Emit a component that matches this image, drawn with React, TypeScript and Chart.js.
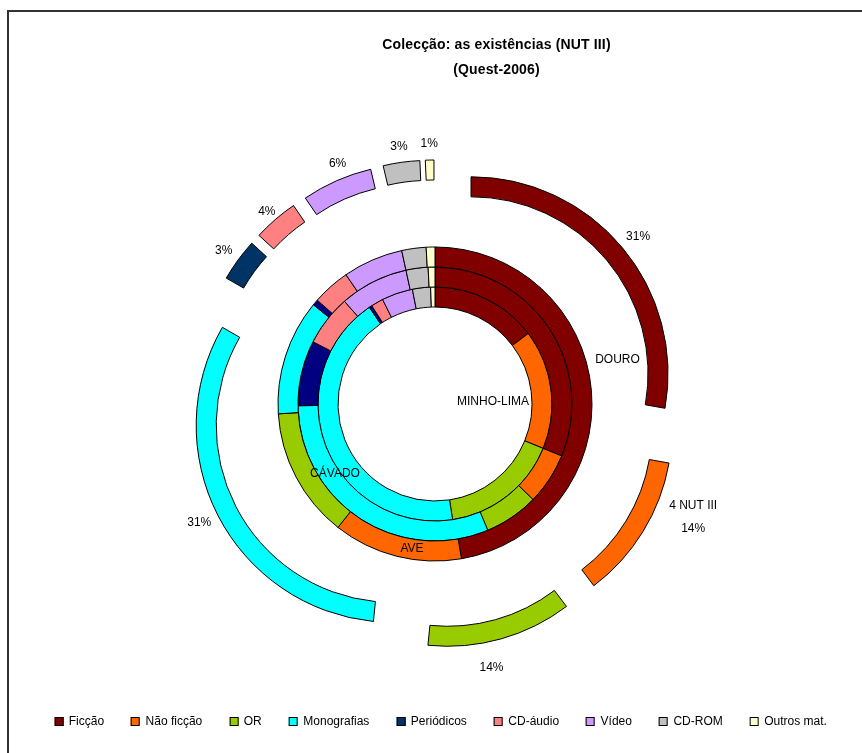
import React, { useEffect, useRef } from 'react';
import { Chart, registerables } from 'chart.js';

Chart.register(...registerables);

// ---------- data ----------
const CATEGORIES = ['Ficção', 'Não ficção', 'OR', 'Monografias', 'Periódicos', 'CD-áudio', 'Vídeo', 'CD-ROM', 'Outros mat.'];
const COLORS = ['#800000', '#FF6600', '#99CC00', '#00FFFF', '#003366', '#FF8080', '#CC99FF', '#C0C0C0', '#FFFFCC'];
const INNER_PERIODICOS_COLOR = '#000080';

const SERIES_NAMES = ['4 NUT III', 'DOURO', 'AVE', 'CÁVADO', 'MINHO-LIMA'];
const NUT3 = [27.8, 11.9, 11.9, 31.7, 3.5, 3.7, 5.8, 3.0, 0.7];
const NUT3_LABELS = ['31%', '14%', '14%', '31%', '3%', '4%', '6%', '3%', '1%'];
const AVE = [47.3, 13.3, 13.4, 11.9, 0.6, 3.9, 6.2, 2.5, 0.9];
const CAVADO = [31.2, 6.1, 6.4, 31.1, 7.7, 6.0, 8.1, 2.6, 0.8];
const MINHO_LIMA = [14.7, 16.5, 16.4, 42.9, 0.4, 1.7, 4.3, 2.5, 0.6];
const DOURO_SPACER = [1];

const TITLE_LINES = ['Colecção: as existências (NUT III)', '(Quest-2006)'];

// ---------- layout / style ----------
const FONT = '"Liberation Sans", Arial, Helvetica, sans-serif';
const W = 846;
const H = 737;
const OUTER_RADIUS = 197;
const HOLE = '49.24%';
const EXPLODE = 47;
const LABEL_NUDGE: Record<number, [number, number]> = { 1: [22, -26], 2: [-15, 13], 5: [3, 4], 6: [8, -2] };
const SERIES_LABEL_OFFSETS: [number, number][] = [
  [0, 0],
  [182.5, -44],
  [-23, 145],
  [-100, 70],
  [58, -2.5],
];

const innerColors = COLORS.map((c, i) => (i === 4 ? INNER_PERIODICOS_COLOR : c));

const explodedRing = {
  id: 'explodedRing',
  beforeDatasetDraw(_chart: any, args: any) {
    if (args.index === 0) return false;
    return true;
  },
  afterDatasetsDraw(chart: any) {
    const ctx = chart.ctx;
    const meta = chart.getDatasetMeta(0);
    meta.data.forEach((arc: any) => {
      const mid = (arc.startAngle + arc.endAngle) / 2;
      ctx.save();
      ctx.translate(Math.cos(mid) * EXPLODE, Math.sin(mid) * EXPLODE);
      arc.draw(ctx);
      ctx.restore();
    });
  },
};

const ringLabels = {
  id: 'ringLabels',
  afterDraw(chart: any) {
    const ctx = chart.ctx;
    const meta = chart.getDatasetMeta(0);
    ctx.save();
    ctx.font = `12px ${FONT}`;
    ctx.fillStyle = '#000';
    ctx.textAlign = 'center';
    ctx.textBaseline = 'middle';
    meta.data.forEach((arc: any, i: number) => {
      const mid = (arc.startAngle + arc.endAngle) / 2;
      const cs = Math.cos(mid);
      const sn = Math.sin(mid);
      const sx = arc.x + cs * EXPLODE;
      const sy = arc.y + sn * EXPLODE;
      const lines = i === 1 ? [SERIES_NAMES[0], NUT3_LABELS[i]] : [NUT3_LABELS[i]];
      const w = Math.max(...lines.map((l) => ctx.measureText(l).width));
      const hw = w / 2;
      const hh = lines.length * 7;
      const r = arc.outerRadius + 9;
      let x = sx + cs * r + cs * hw;
      let y = sy + sn * r + sn * hh;
      const n = LABEL_NUDGE[i];
      if (n) {
        x += n[0];
        y += n[1];
      }
      lines.forEach((l, k) => {
        const off = (k - (lines.length - 1) / 2) * 23;
        ctx.fillText(l, x, y + off);
      });
    });
    const cx = meta.data[0].x;
    const cy = meta.data[0].y;
    for (let s = 1; s < SERIES_NAMES.length; s++) {
      const [dx, dy] = SERIES_LABEL_OFFSETS[s];
      ctx.fillText(SERIES_NAMES[s], cx + dx, cy + dy);
    }
    ctx.restore();
  },
};

export default function App() {
  const canvasRef = useRef<HTMLCanvasElement | null>(null);

  useEffect(() => {
    if (!canvasRef.current) return;
    const ringStyle = (colors: string[]) => ({
      backgroundColor: colors,
      borderColor: '#000',
      borderWidth: 1,
    });
    const chart = new Chart(canvasRef.current, {
      type: 'doughnut',
      data: {
        labels: CATEGORIES,
        datasets: [
          { label: SERIES_NAMES[0], data: NUT3, ...ringStyle(COLORS) },
          { label: SERIES_NAMES[1], data: DOURO_SPACER, backgroundColor: 'rgba(0,0,0,0)', borderWidth: 0 },
          { label: SERIES_NAMES[2], data: AVE, ...ringStyle(innerColors) },
          { label: SERIES_NAMES[3], data: CAVADO, ...ringStyle(innerColors) },
          { label: SERIES_NAMES[4], data: MINHO_LIMA, ...ringStyle(innerColors) },
        ],
      },
      options: {
        responsive: false,
        animation: false,
        events: [],
        radius: OUTER_RADIUS,
        cutout: HOLE,
        layout: { padding: { left: 8, top: 55, right: 0, bottom: 0 } },
        plugins: {
          legend: { display: false },
          tooltip: { enabled: false },
          title: { display: false },
        },
      } as any,
      plugins: [explodedRing, ringLabels],
    });
    return () => chart.destroy();
  }, []);

  return (
    <div style={{ position: 'relative', width: W, height: H, overflow: 'hidden', fontFamily: FONT }}>
      <div
        style={{
          position: 'fixed',
          left: 7,
          top: 10,
          width: 1000,
          height: 1000,
          borderTop: '2px solid #333',
          borderLeft: '2px solid #333',
          boxSizing: 'border-box',
          pointerEvents: 'none',
        }}
      />
      <canvas ref={canvasRef} width={W} height={H} style={{ position: 'absolute', left: 0, top: 0, display: 'block' }} />
      {TITLE_LINES.map((t, i) => (
        <div
          key={t}
          style={{
            position: 'absolute',
            left: 488.5,
            top: i === 0 ? 28 : 53,
            transform: 'translateX(-50%)',
            whiteSpace: 'nowrap',
            fontWeight: 'bold',
            fontSize: 14,
            letterSpacing: 0.15,
            lineHeight: '16px',
            color: '#000',
          }}
        >
          {t}
        </div>
      ))}
      <div
        style={{
          position: 'absolute',
          left: 440.6 - 8,
          top: 705,
          transform: 'translateX(-50%)',
          display: 'flex',
          alignItems: 'center',
          gap: 27,
          whiteSpace: 'nowrap',
          fontSize: 12,
          lineHeight: '16px',
          color: '#000',
        }}
      >
        {CATEGORIES.map((c, i) => (
          <div key={c} style={{ display: 'flex', alignItems: 'center' }}>
            <span
              style={{
                display: 'inline-block',
                width: 7,
                height: 7,
                border: '1px solid #000',
                background: COLORS[i],
                marginRight: 5.5,
              }}
            />
            <span>{c}</span>
          </div>
        ))}
      </div>
    </div>
  );
}
